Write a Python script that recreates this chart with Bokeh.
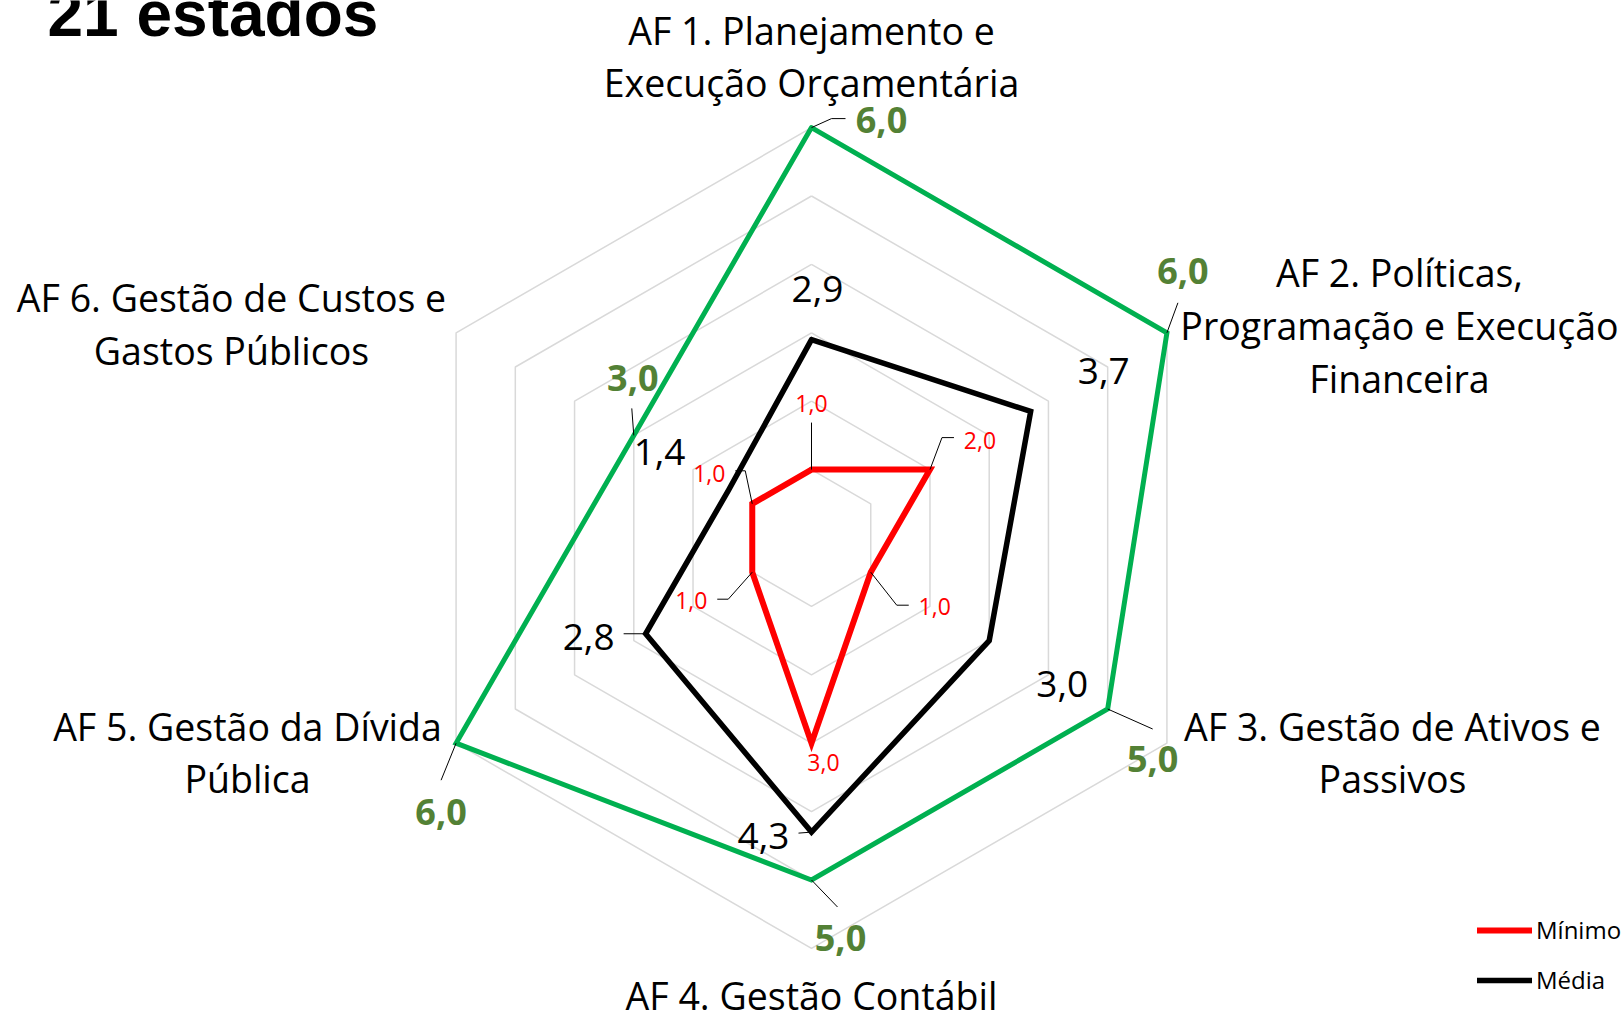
import math
from bokeh.plotting import figure
from bokeh.models import Range1d, Legend, LegendItem
from bokeh.core.properties import value
from bokeh.embed import file_html
from bokeh.resources import INLINE

# ---------------- data ----------------
title = "21 estados"
categories = [
    "AF 1. Planejamento e\nExecução Orçamentária",
    "AF 2. Políticas,\nProgramação e Execução\nFinanceira",
    "AF 3. Gestão de Ativos e\nPassivos",
    "AF 4. Gestão Contábil",
    "AF 5. Gestão da Dívida\nPública",
    "AF 6. Gestão de Custos e\nGastos Públicos",
]
minimo = [1.0, 2.0, 1.0, 3.0, 1.0, 1.0]
media = [2.9, 3.7, 3.0, 4.3, 2.8, 1.4]
maximo = [6.0, 6.0, 5.0, 5.0, 6.0, 3.0]
ring_levels = [1, 2, 3, 4, 5, 6]
legend_labels = ["Mínimo", "Média"]

# ---------------- layout / style ----------------
W, H = 1624, 1010
CX, CY, UNIT = 811, 537.5, 68.4
FONT = "Open Sans"
RED, BLACK, GREEN, GREEN_TXT, GRID = "#FF0000", "#000000", "#00B050", "#538135", "#D9D9D9"
FIX = 0.36  # empirical shift of the renderer's alphabetic baseline (fraction of font size)

cat_anchor = [(811, 43), (1399, 285), (1392, 739), (811, 1008), (247, 739), (231, 310)]
cat_gap = [52, 53, 52, 52, 52, 53]
CAT_SIZE, MAX_SIZE, MED_SIZE, MIN_SIZE, LEG_SIZE, TITLE_SIZE = 37.5, 36, 37, 23, 24, 64

# label centre offsets (px) from each point, and leader polylines (offsets)
max_off = [(70, -7), (16, -62), (45, 50), (29, 58), (-15, 69), (-1, -57)]
max_lead = [[(20, -9), (34, -9)], [(11, -30)], [(45, 20)], [(26, 27)], [(-15, 37)], [(-2, -27)]]
med_off = [(6, -51), (73, -40), (73, 44), (-48, 4), (-57, 3), (-69, -38)]
med_lead = [[], [], [], [(-13, 1)], [(-22, 0)], []]
min_off = [(0, -66), (50, -29), (64, 34), (12, 19), (-61, 28), (-43, -30)]
min_lead = [[(0, -47)], [(12, -32), (24, -32)], [(26, 33), (38, 33)], [], [(-24, 27), (-35, 27)], [(-7, -33), (-17, -33)]]

n = len(categories)


def pt(r, i):
    a = 2 * math.pi * i / n
    return CX + r * UNIT * math.sin(a), CY - r * UNIT * math.cos(a)


def fmt(v):
    return f"{v:.1f}".replace(".", ",")


p = figure(width=W, height=H, x_range=Range1d(0, W), y_range=Range1d(H, 0),
           output_backend="svg", toolbar_location=None, min_border=0,
           x_axis_location=None, y_axis_location=None)
p.grid.visible = False
p.outline_line_color = None
p.background_fill_color = "white"
p.border_fill_color = "white"

# grid rings
gx, gy = [], []
for r in ring_levels:
    pts = [pt(r, i) for i in range(n)] + [pt(r, 0)]
    gx.append([q[0] for q in pts])
    gy.append([q[1] for q in pts])
p.multi_line(gx, gy, line_color=GRID, line_width=1.5)


def series(vals, color, lw):
    pts = [pt(v, i) for i, v in enumerate(vals)]
    pts.append(pts[0])
    return p.line([q[0] for q in pts], [q[1] for q in pts], line_color=color, line_width=lw,
                  line_join="miter", line_cap="round")


r_min = series(minimo, RED, 6)
r_med = series(media, BLACK, 5.5)
r_max = series(maximo, GREEN, 5)


def labels(vals, offs, leads, color, size, bold=False):
    xs, ys, ts, lx, ly = [], [], [], [], []
    for i, v in enumerate(vals):
        x0, y0 = pt(v, i)
        dx, dy = offs[i]
        xs.append(x0 + dx)
        ys.append(y0 + dy + 0.357 * size - FIX * size)
        ts.append(fmt(v))
        if leads[i]:
            lx.append([x0] + [x0 + a for a, b in leads[i]])
            ly.append([y0] + [y0 + b for a, b in leads[i]])
    if lx:
        p.multi_line(lx, ly, line_color="black", line_width=1)
    p.text(xs, ys, text=ts, text_font=value(FONT), text_font_size=f"{size}px",
           text_font_style="bold" if bold else "normal", text_color=color,
           text_align="center", text_baseline="alphabetic")


labels(maximo, max_off, max_lead, GREEN_TXT, MAX_SIZE, bold=True)
labels(media, med_off, med_lead, BLACK, MED_SIZE)
labels(minimo, min_off, min_lead, RED, MIN_SIZE)

# category labels
cx_, cy_, ct_ = [], [], []
for i, c in enumerate(categories):
    x0, y0 = cat_anchor[i]
    for k, line in enumerate(c.split("\n")):
        cx_.append(x0)
        cy_.append(y0 + k * cat_gap[i] - FIX * CAT_SIZE)
        ct_.append(line)
p.text(cx_, cy_, text=ct_, text_font=value(FONT), text_font_size=f"{CAT_SIZE}px", text_color="black",
       text_align="center", text_baseline="alphabetic")

# title
p.text([47], [37 - FIX * TITLE_SIZE], text=[title], text_font=value("Liberation Sans"), text_font_style="bold",
       text_font_size=f"{TITLE_SIZE}px", text_color="black", text_align="left", text_baseline="alphabetic")

# legend
legend = Legend(items=[LegendItem(label=legend_labels[0], renderers=[r_min]),
                       LegendItem(label=legend_labels[1], renderers=[r_med])],
                location=(1477, 14), orientation="vertical",
                glyph_width=55, glyph_height=20, label_height=20, label_standoff=4,
                spacing=17, padding=0, margin=0,
                border_line_color=None, background_fill_alpha=0,
                label_text_font=FONT, label_text_font_size=f"{LEG_SIZE}px", label_text_color="black")
p.add_layout(legend, "center")

open("out.html", "w").write(file_html(p, INLINE))
